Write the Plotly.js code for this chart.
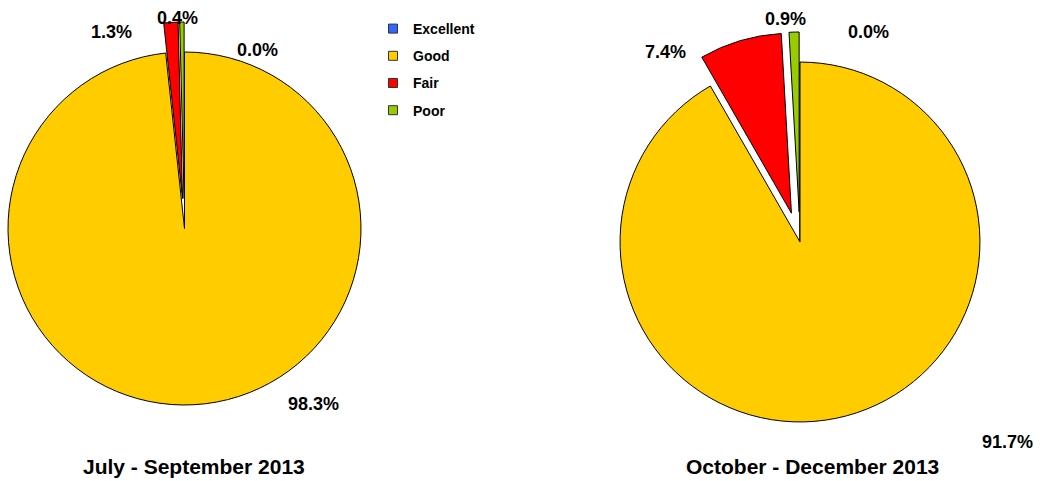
<!DOCTYPE html>
<html>
<head>
<meta charset="utf-8">
<script src="https://cdn.plot.ly/plotly-3.0.1.min.js"></script>
<style>
html,body{margin:0;padding:0;background:#fff;overflow:hidden;width:1040px;height:481px;}
#chart{position:absolute;left:-40px;top:0;width:1120px;height:481px;}
</style>
</head>
<body>
<div id="chart"></div>
<script>
// ---- data ----
const categories = ["Excellent", "Good", "Fair", "Poor"];
const colors = ["#3366FF", "#FFCC00", "#FF0000", "#99CC00"];
const period1 = "July - September 2013";
const values1 = [0.0, 98.3, 1.3, 0.4];
const period2 = "October - December 2013";
const values2 = [0.0, 91.7, 7.4, 0.9];
const pull1 = [0, 0, 0.17, 0.17];
const pull2 = [0, 0, 0.167, 0.167];

// ---- geometry helpers (page px -> paper coords) ----
const OFF = 40, W = 1120, H = 481;
const px = x => (x + OFF) / W;
const py = y => 1 - y / H;

const FONT = "Liberation Sans, Arial, sans-serif";

function pieTrace(vals, pulls, dom) {
  return {
    type: "pie",
    labels: categories,
    values: vals,
    sort: false,
    direction: "clockwise",
    rotation: 0,
    pull: pulls,
    textinfo: "none",
    hoverinfo: "label+percent",
    showlegend: false,
    marker: {colors: colors, line: {color: "#000000", width: 1}},
    domain: dom
  };
}

const traces = [
  pieTrace(values1, pull1, {x: [px(-22), px(391)], y: [py(435), py(22)]}),
  pieTrace(values2, pull2, {x: [px(590), px(1010)], y: [py(452), py(32)]})
];
// legend entries
categories.forEach((c, i) => {
  traces.push({
    type: "scatter", mode: "markers", x: [null], y: [null],
    name: c, legendgroup: c, showlegend: true,
    marker: {symbol: "square", size: 9, color: colors[i], line: {color: "#333333", width: 1}},
    hoverinfo: "skip"
  });
});

const fmt = v => v.toFixed(1) + "%";
const labelPos1 = [[257, 50], [313, 404], [111, 32], [177, 18]];
const labelPos2 = [[868, 32], [1007, 442], [665, 52], [785, 19]];
const annotations = [];
values1.forEach((v, i) => annotations.push({
  xref: "paper", yref: "paper", x: px(labelPos1[i][0]), y: py(labelPos1[i][1]),
  text: fmt(v), showarrow: false, xanchor: "center", yanchor: "middle",
  font: {family: FONT, size: 18, color: "#000", weight: "bold"}
}));
values2.forEach((v, i) => annotations.push({
  xref: "paper", yref: "paper", x: px(labelPos2[i][0]), y: py(labelPos2[i][1]),
  text: fmt(v), showarrow: false, xanchor: "center", yanchor: "middle",
  font: {family: FONT, size: 18, color: "#000", weight: "bold"}
}));
[[period1, 194], [period2, 812]].forEach(([t, x]) => annotations.push({
  xref: "paper", yref: "paper", x: px(x), y: py(466),
  text: t, showarrow: false, xanchor: "center", yanchor: "middle",
  font: {family: FONT, size: 21, color: "#000", weight: "bold"}
}));

const layout = {
  width: W, height: H,
  margin: {l: 0, r: 0, t: 0, b: 0},
  paper_bgcolor: "#ffffff", plot_bgcolor: "rgba(0,0,0,0)",
  xaxis: {visible: false}, yaxis: {visible: false},
  showlegend: true,
  legend: {
    x: px(373), y: py(13), xanchor: "left", yanchor: "top",
    bgcolor: "rgba(0,0,0,0)", tracegroupgap: 6, traceorder: "grouped",
    font: {family: FONT, size: 14, color: "#000", weight: "bold"}
  },
  annotations: annotations
};

Plotly.newPlot("chart", traces, layout, {staticPlot: true});
</script>
</body>
</html>
